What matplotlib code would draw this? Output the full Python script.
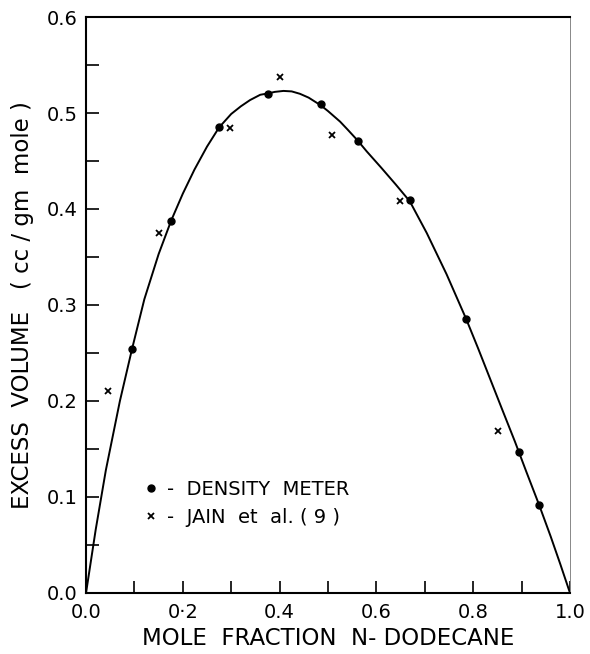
import numpy as np
import matplotlib.pyplot as plt
from matplotlib.ticker import MultipleLocator

# Density meter measurements (dots)
x_densidad = [0.095, 0.176, 0.275, 0.377, 0.485, 0.561, 0.669, 0.785, 0.895, 0.936]
y_densidad = [0.254, 0.388, 0.485, 0.520, 0.509, 0.471, 0.409, 0.285, 0.147, 0.092]

# Jain et al. (9) data (crosses)
x_jain = [0.046, 0.150, 0.298, 0.401, 0.508, 0.649, 0.851]
y_jain = [0.210, 0.375, 0.484, 0.538, 0.477, 0.408, 0.169]

# Smoothed curve
x_curva = [0.0, 0.02, 0.041, 0.07, 0.095, 0.1205, 0.15, 0.176, 0.20, 0.224,
           0.25, 0.275, 0.30, 0.32, 0.339, 0.36, 0.377, 0.39, 0.408, 0.425,
           0.442, 0.46, 0.485, 0.50, 0.525, 0.54, 0.561, 0.58, 0.61, 0.64,
           0.669, 0.704, 0.745, 0.785, 0.81, 0.835, 0.86, 0.886, 0.91,
           0.936, 0.96, 0.98, 1.0]
y_curva = [0.0, 0.066, 0.128, 0.200, 0.254, 0.306, 0.353, 0.388, 0.416, 0.441,
           0.465, 0.485, 0.499, 0.507, 0.5135, 0.519, 0.5205, 0.522, 0.523,
           0.5225, 0.520, 0.516, 0.508, 0.502, 0.491, 0.483, 0.4715, 0.460,
           0.443, 0.4255, 0.408, 0.375, 0.332, 0.286, 0.255, 0.223, 0.191,
           0.158, 0.126, 0.092, 0.059, 0.030, 0.0]

x_ticks = [0.0, 0.2, 0.4, 0.6, 0.8, 1.0]
x_ticklabels = ['0.0', '0·2', '0.4', '0.6', '0.8', '1.0']
y_ticks = [0.0, 0.1, 0.2, 0.3, 0.4, 0.5, 0.6]
y_ticklabels = ['0.0', '0.1', '0.2', '0.3', '0.4', '0.5', '0.6']

plt.rcParams['font.family'] = ['DejaVu Sans']

fig = plt.figure(figsize=(5.9, 6.54), dpi=100)
ax = fig.add_axes([0.1458, 0.0933, 0.8203, 0.8807])

ax.plot(x_curva, y_curva, color='black', lw=1.4, zorder=2)
ax.plot(x_densidad, y_densidad, 'o', color='black', ms=5,
        label='-  DENSITY  METER', zorder=3)
ax.plot(x_jain, y_jain, 'x', color='black', ms=5, mew=1.3,
        label='-  JAIN  et  al. ( 9 )', zorder=3)

ax.set_xlim(0, 1.0)
ax.set_ylim(0, 0.6)
ax.set_xticks(x_ticks)
ax.set_xticklabels(x_ticklabels)
ax.set_yticks(y_ticks)
ax.set_yticklabels(y_ticklabels)
ax.xaxis.set_minor_locator(MultipleLocator(0.1))
ax.yaxis.set_minor_locator(MultipleLocator(0.05))
ax.tick_params(which='both', direction='in', length=9, width=1.2,
               top=False, right=False, labelsize=14, color='black')
ax.tick_params(axis='x', pad=7)
ax.tick_params(axis='y', pad=6)

for lado in ['left', 'bottom', 'top']:
    ax.spines[lado].set_linewidth(1.5)
ax.spines['right'].set_linewidth(0.7)
ax.spines['right'].set_color('#888888')

ax.set_xlabel('MOLE  FRACTION  N- DODECANE', fontsize=16.5, labelpad=4)
ax.set_ylabel('EXCESS  VOLUME   ( cc / gm  mole )', fontsize=16.5, labelpad=9)

ax.legend(loc='lower left', bbox_to_anchor=(0.083, 0.085), frameon=False,
          handlelength=0.8, handletextpad=0.4, labelspacing=0.45, fontsize=14)

fig.savefig('out.png', dpi=100)
